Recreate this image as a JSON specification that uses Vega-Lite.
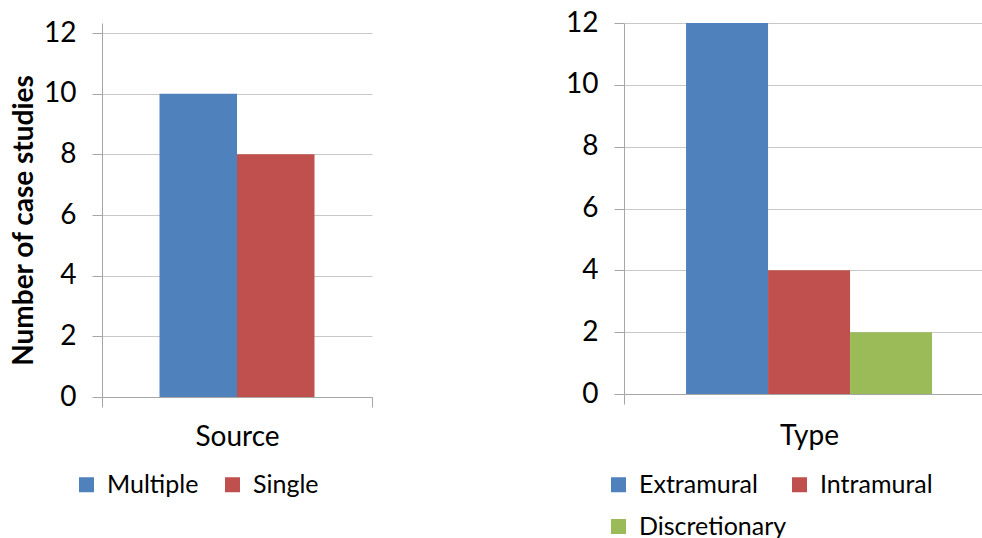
{
  "$schema": "https://vega.github.io/schema/vega-lite/v6.json",
  "background": "white",
  "padding": {"left": 10, "top": 9, "right": 0, "bottom": 0},
  "spacing": 192,
  "config": {
    "view": {"stroke": null},
    "font": "Lato",
    "axis": {
      "domainColor": "#a6a6a6",
      "tickColor": "#a6a6a6",
      "gridColor": "#c8c8c8",
      "labelColor": "#000000",
      "titleColor": "#000000",
      "labelFont": "Lato",
      "titleFont": "Lato",
      "labelFontSize": 28,
      "titleFontSize": 28,
      "titleFontWeight": "normal"
    },
    "legend": {
      "labelFont": "Lato",
      "labelFontSize": 25,
      "labelColor": "#000000",
      "symbolType": "square",
      "symbolSize": 225,
      "symbolStrokeWidth": 0,
      "labelOffset": 8
    }
  },
  "datasets": {
    "source": [
      {"panel": "Source", "cat": "Multiple", "n": 10},
      {"panel": "Source", "cat": "Single", "n": 8}
    ],
    "type": [
      {"panel": "Type", "cat": "Extramural", "n": 12},
      {"panel": "Type", "cat": "Intramural", "n": 4},
      {"panel": "Type", "cat": "Discretionary", "n": 2}
    ]
  },
  "hconcat": [
    {
      "width": 270,
      "height": 374,
      "data": {"name": "source"},
      "mark": {"type": "bar"},
      "encoding": {
        "x": {
          "field": "panel",
          "type": "nominal",
          "scale": {"paddingInner": 0, "paddingOuter": 0},
          "axis": {"title": "Source", "labels": false, "tickBand": "extent", "tickSize": 10, "grid": false, "titlePadding": 16}
        },
        "xOffset": {
          "field": "cat",
          "type": "nominal",
          "sort": ["Multiple", "Single"],
          "scale": {"paddingInner": 0, "paddingOuter": 0.742}
        },
        "y": {
          "field": "n",
          "type": "quantitative",
          "scale": {"domain": [0, 12.33], "nice": false},
          "axis": {
            "values": [0, 2, 4, 6, 8, 10, 12],
            "title": "Number of case studies",
            "titleFontWeight": "bold",
            "titleFontSize": 28,
            "titleY": 197,
            "tickSize": 10,
            "labelPadding": 16,
            "titlePadding": 5,
            "grid": true
          }
        },
        "color": {
          "field": "cat",
          "type": "nominal",
          "scale": {"domain": ["Multiple", "Single"], "range": ["#4F81BD", "#C0504D"]},
          "legend": {"title": null, "orient": "none", "direction": "horizontal", "legendX": -28, "legendY": 449, "columnPadding": 21}
        }
      }
    },
    {
      "width": 358,
      "height": 371,
      "data": {"name": "type"},
      "mark": {"type": "bar"},
      "encoding": {
        "x": {
          "field": "panel",
          "type": "nominal",
          "scale": {"paddingInner": 0, "paddingOuter": 0},
          "axis": {"title": "Type", "labels": false, "tickBand": "extent", "tickSize": 10, "grid": false, "titlePadding": 18, "titleX": 185}
        },
        "xOffset": {
          "field": "cat",
          "type": "nominal",
          "sort": ["Extramural", "Intramural", "Discretionary"],
          "scale": {"paddingInner": 0, "paddingOuter": 0.683, "align": 0.554}
        },
        "y": {
          "field": "n",
          "type": "quantitative",
          "scale": {"domain": [0, 12], "nice": false},
          "axis": {
            "values": [0, 2, 4, 6, 8, 10, 12],
            "title": null,
            "tickSize": 10,
            "labelPadding": 16,
            "grid": true
          }
        },
        "color": {
          "field": "cat",
          "type": "nominal",
          "sort": ["Extramural", "Intramural", "Discretionary"],
          "scale": {"domain": ["Extramural", "Intramural", "Discretionary"], "range": ["#4F81BD", "#C0504D", "#9BBB59"]},
          "legend": {"title": null, "orient": "none", "direction": "horizontal", "columns": 2, "columnPadding": 0, "rowPadding": 16, "legendX": -18, "legendY": 449}
        }
      }
    }
  ],
  "resolve": {"scale": {"color": "independent", "y": "independent", "x": "independent", "xOffset": "independent"}}
}
